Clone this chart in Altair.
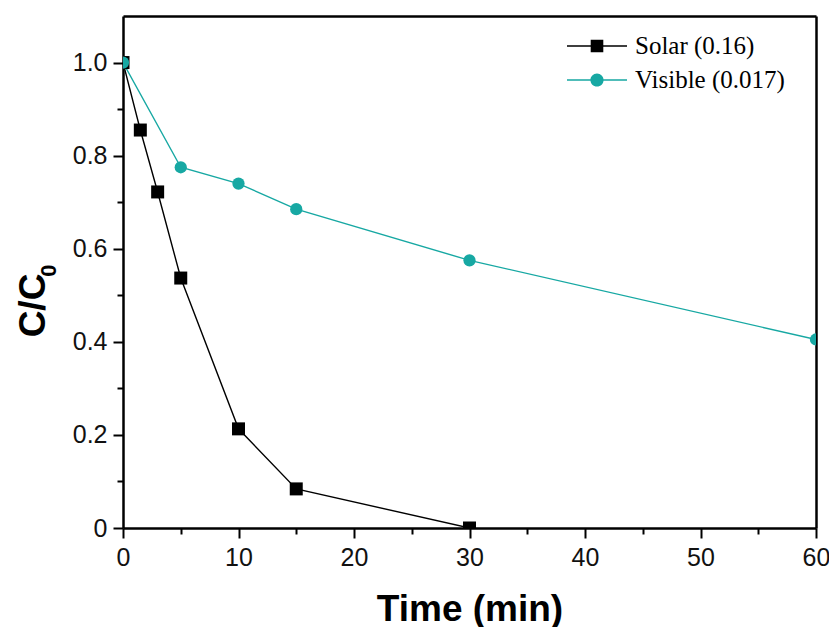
import altair as alt
import pandas as pd

series_names = ["Solar (0.16)", "Visible (0.017)"]
series_colors = ["#000000", "#17a8a3"]

time_solar = [0, 1.5, 3, 5, 10, 15, 30]
c_solar = [1.0, 0.855, 0.722, 0.537, 0.213, 0.084, 0.0]

time_visible = [0, 5, 10, 15, 30, 60]
c_visible = [1.0, 0.775, 0.740, 0.685, 0.575, 0.405]

x_major = [0, 10, 20, 30, 40, 50, 60]
x_minor = [5, 15, 25, 35, 45, 55]
y_major = [0, 0.2, 0.4, 0.6, 0.8, 1.0]
y_minor = [0.1, 0.3, 0.5, 0.7, 0.9]

rows = []
for t, c in zip(time_solar, c_solar):
    rows.append({"t": t, "c": c, "series": series_names[0]})
for t, c in zip(time_visible, c_visible):
    rows.append({"t": t, "c": c, "series": series_names[1]})
df = pd.DataFrame(rows)

xs = alt.Scale(domain=[0, 60], nice=False, zero=False)
ys = alt.Scale(domain=[0, 1.1], nice=False, zero=False)
cs = alt.Scale(domain=series_names, range=series_colors)

label_font = "Liberation Sans"

x_axis_major = alt.Axis(
    orient="bottom", values=x_major, format="d", title="Time (min)",
    titleFont=label_font, titleFontSize=37, titleFontWeight="bold", titleColor="black",
    titleX=346.5, titleY=92, titleBaseline="alphabetic", titleAlign="center",
    labelFont=label_font, labelFontSize=25, labelColor="#111111", labelPadding=7,
    labelFlush=False, labelOverlap=False,
    tickSize=10, tickWidth=2, tickColor="black",
    domainColor="black", domainWidth=2.5, grid=False,
)
# main part of the y title "C/C" (subscript 0 is drawn as the minor axis title)
y_axis_major = alt.Axis(
    orient="left", values=y_major,
    labelExpr="datum.value == 0 ? '0' : format(datum.value, '.1f')",
    title="C/C",
    titleFont=label_font, titleFontSize=37, titleFontWeight="bold", titleColor="black",
    titleX=-79, titleY=289, titleAngle=-90, titleBaseline="alphabetic", titleAlign="center",
    labelFont=label_font, labelFontSize=25, labelColor="#111111", labelPadding=6,
    labelFlush=False, labelOverlap=False,
    tickSize=10, tickWidth=2, tickColor="black",
    domainColor="black", domainWidth=2.5, grid=False,
)
x_axis_minor = alt.Axis(
    orient="bottom", values=x_minor, labels=False, title=None, domain=False,
    tickSize=6, tickWidth=2, tickColor="black", grid=False,
)
y_axis_minor = alt.Axis(
    orient="left", values=y_minor, labels=False, domain=False,
    title="0",
    titleFont=label_font, titleFontSize=22, titleFontWeight="bold", titleColor="black",
    titleX=-68, titleY=254, titleAngle=-90, titleBaseline="alphabetic", titleAlign="center",
    tickSize=6, tickWidth=2, tickColor="black", grid=False,
)
x_axis_top = alt.Axis(
    orient="top", labels=False, ticks=False, title=None, grid=False,
    domainColor="black", domainWidth=2.5,
)
y_axis_right = alt.Axis(
    orient="right", labels=False, ticks=False, title=None, grid=False,
    domainColor="black", domainWidth=2.5,
)

base = alt.Chart(df)

lines = base.mark_line(strokeWidth=1.4, clip=True).encode(
    x=alt.X("t:Q", scale=xs, axis=x_axis_major),
    y=alt.Y("c:Q", scale=ys, axis=y_axis_major),
    color=alt.Color("series:N", scale=cs, legend=None),
    order=alt.Order("t:Q"),
)

points = base.mark_point(filled=True, opacity=1, clip=True, strokeWidth=0).encode(
    x=alt.X("t:Q", scale=xs, axis=x_axis_minor),
    y=alt.Y("c:Q", scale=ys, axis=y_axis_minor),
    color=alt.Color("series:N", scale=cs, legend=None),
    shape=alt.Shape("series:N", scale=alt.Scale(domain=series_names, range=["square", "circle"]), legend=None),
    size=alt.Size("series:N", scale=alt.Scale(domain=series_names, range=[169, 150]), legend=None),
)

# legend entries: line + marker glyphs (custom symbol paths)
line_path = "M-1,-0.022H1V0.022H-1Z"
square_path = line_path + " M-0.21,-0.21H0.21V0.21H-0.21Z"
circle_path = line_path + " M-0.22,0A0.22,0.22,0,1,1,0.22,0A0.22,0.22,0,1,1,-0.22,0Z"


def legend_layer(name, path, color, ly, xaxis, yaxis):
    return base.transform_filter("false").mark_point(
        filled=True, opacity=1, size=3600, color=color, strokeWidth=0
    ).encode(
        x=alt.X("t:Q", scale=xs, axis=xaxis),
        y=alt.Y("c:Q", scale=ys, axis=yaxis),
        shape=alt.Shape(
            "series:N",
            scale=alt.Scale(domain=[name], range=[path]),
            legend=alt.Legend(
                title=None, orient="none", legendX=444, legendY=ly, padding=0,
                labelFont="Liberation Serif", labelFontSize=25, labelColor="black",
                labelOffset=8, symbolSize=3600, symbolStrokeWidth=0,
                symbolFillColor=color, symbolOpacity=1,
            ),
        ),
    )


leg1 = legend_layer(series_names[0], square_path, series_colors[0], 0, x_axis_top, None)
leg2 = legend_layer(series_names[1], circle_path, series_colors[1], 34, None, y_axis_right)

chart = alt.layer(lines, points, leg1, leg2).resolve_axis(
    x="independent", y="independent"
).resolve_scale(shape="independent").properties(
    width=693, height=512,
    autosize=alt.AutoSizeParams(type="none"),
    padding={"left": 123, "top": 16, "right": 13, "bottom": 99},
).configure_view(
    strokeWidth=0,
).configure(background="white")

chart.save("out.html", embed_options={"renderer": "svg", "actions": False})
